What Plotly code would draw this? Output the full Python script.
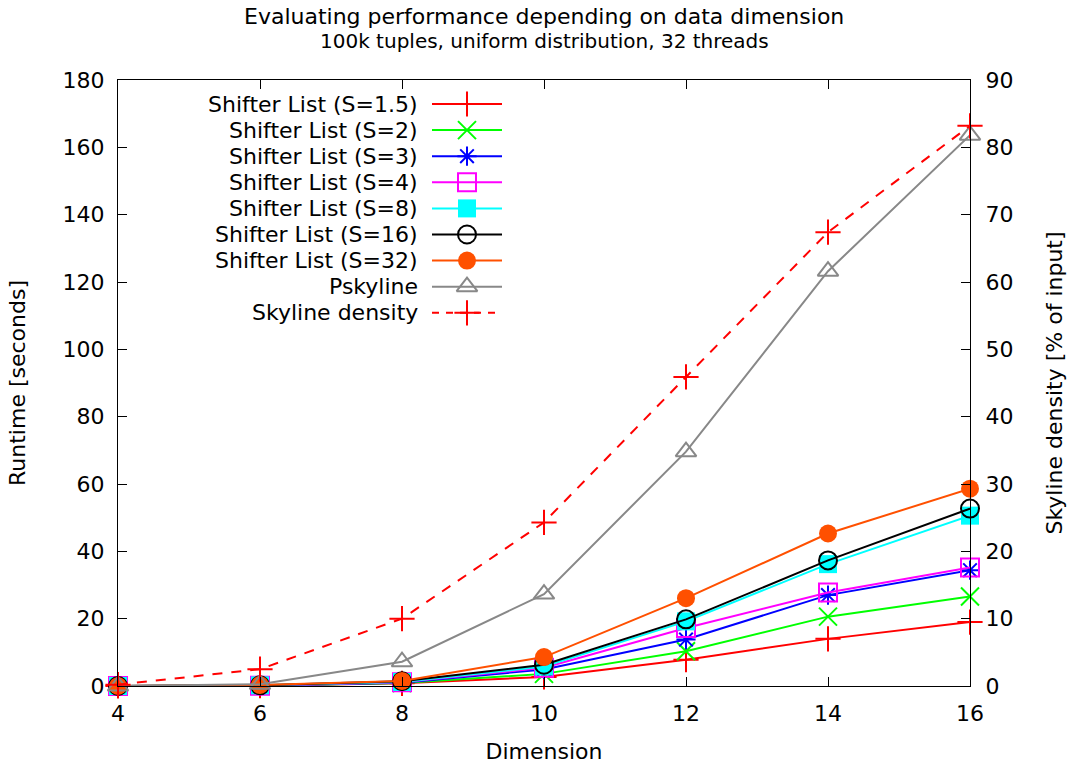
import plotly.graph_objects as go

# Runtime measurements (seconds) per data dimension
dims = [4, 6, 8, 10, 12, 14, 16]
s1_5 = [0.0, 0.1, 0.8, 2.7, 7.8, 14.0, 19.0]
s2 = [0.0, 0.1, 0.9, 3.6, 10.3, 20.6, 26.6]
s3 = [0.0, 0.1, 1.0, 4.9, 13.8, 27.0, 34.4]
s4 = [0.0, 0.1, 1.1, 5.4, 17.2, 27.8, 35.2]
s8 = [0.0, 0.2, 1.2, 5.8, 19.2, 36.2, 50.6]
s16 = [0.0, 0.2, 1.4, 6.3, 19.8, 37.3, 52.7]
s32 = [0.0, 0.3, 1.5, 8.6, 26.1, 45.3, 58.6]
pskyline = [0.0, 0.5, 7.2, 27.3, 69.6, 123.2, 163.6]
# Skyline size as percentage of the input
density = [0.2, 2.5, 10.0, 24.3, 45.9, 67.4, 83.2]

FONT = "DejaVu Sans"
FS = 22

series = [
    ("Shifter List (S=1.5)", s1_5, "#ff0000", "cross-thin", "y", "solid"),
    ("Shifter List (S=2)", s2, "#00ff00", "x-thin", "y", "solid"),
    ("Shifter List (S=3)", s3, "#0000ff", "asterisk-open", "y", "solid"),
    ("Shifter List (S=4)", s4, "#ff00ff", "square-open", "y", "solid"),
    ("Shifter List (S=8)", s8, "#00ffff", "square", "y", "solid"),
    ("Shifter List (S=16)", s16, "#000000", "circle-open", "y", "solid"),
    ("Shifter List (S=32)", s32, "#ff5000", "circle", "y", "solid"),
    ("Pskyline", pskyline, "#888888", "triangle-up-open", "y", "solid"),
    ("Skyline density", density, "#ff0000", "cross-thin", "y2", "10px,9px"),
]


def marker_for(sym, color):
    filled = sym in ("square", "circle")
    return dict(symbol=sym, size=18 if sym != "asterisk-open" else 16, color=color,
                line=dict(color=color, width=0 if filled else 2))


fig = go.Figure()

for name, vals, color, sym, yax, dash in series:
    fig.add_trace(go.Scatter(
        x=dims, y=vals, name=name, yaxis=yax, mode="lines+markers",
        line=dict(color=color, width=2, dash=dash),
        marker=marker_for(sym, color), cliponaxis=False,
        showlegend=False,
    ))

# Key: labels right-aligned, samples to the right of the labels
PL, PR, PT, PB = 118, 970, 80, 686
row0, row_h = 104, 26.1
text_right, samp_l, samp_r = 420, 432, 502
samp_c = (samp_l + samp_r) / 2
annotations = []
shapes = []
for i, (name, vals, color, sym, yax, dash) in enumerate(series):
    yy = row0 + i * row_h
    annotations.append(dict(
        x=text_right, y=yy, xref="x3", yref="y3", text=name, showarrow=False,
        xanchor="right", yanchor="middle", font=dict(family=FONT, size=FS, color="black")))
    shapes.append(dict(
        type="line", xref="x3", yref="y3", x0=samp_l, x1=samp_r, y0=yy, y1=yy,
        line=dict(color=color, width=2, dash="7px,7px" if dash != "solid" else "solid")))
    fig.add_trace(go.Scatter(
        x=[samp_c], y=[yy], xaxis="x3", yaxis="y3", mode="markers",
        marker=marker_for(sym, color), cliponaxis=False,
        showlegend=False, hoverinfo="skip"))

annotations += [
    dict(x=0.5, y=1.0, xref="paper", yref="paper", yshift=64, showarrow=False,
         text="Evaluating performance depending on data dimension",
         font=dict(family=FONT, size=22, color="black"), yanchor="middle"),
    dict(x=0.5, y=1.0, xref="paper", yref="paper", yshift=39, showarrow=False,
         text="100k tuples, uniform distribution, 32 threads",
         font=dict(family=FONT, size=20, color="black"), yanchor="middle"),
]

axis_common = dict(
    showgrid=False, zeroline=False, ticks="inside", ticklen=9, tickwidth=1,
    tickcolor="black", linecolor="black", linewidth=1, automargin=False,
    tickfont=dict(family=FONT, size=FS, color="black"),
)

fig.update_layout(
    width=1072, height=767,
    margin=dict(l=PL, r=1072 - PR, t=PT, b=767 - PB),
    paper_bgcolor="white", plot_bgcolor="white",
    font=dict(family=FONT, size=FS, color="black"),
    xaxis=dict(range=[4, 16], dtick=2, mirror="ticks", showline=True, ticklabelstandoff=8,
               title=dict(text="Dimension", font=dict(family=FONT, size=FS), standoff=18),
               **axis_common),
    yaxis=dict(range=[0, 180], dtick=20, mirror=True, showline=True, ticklabelstandoff=8,
               title=dict(text="Runtime [seconds]", font=dict(family=FONT, size=FS), standoff=30),
               **axis_common),
    yaxis2=dict(range=[0, 90], dtick=10, overlaying="y", side="right", showline=True,
                ticklabelstandoff=10,
                title=dict(text="Skyline density [% of input]", font=dict(family=FONT, size=FS),
                           standoff=34),
                **axis_common),
    xaxis3=dict(range=[PL, PR], overlaying="x", visible=False, fixedrange=True),
    yaxis3=dict(range=[PB, PT], overlaying="y", visible=False, fixedrange=True),
    annotations=annotations,
    shapes=shapes,
    showlegend=False,
)

fig.write_html("out.html")
